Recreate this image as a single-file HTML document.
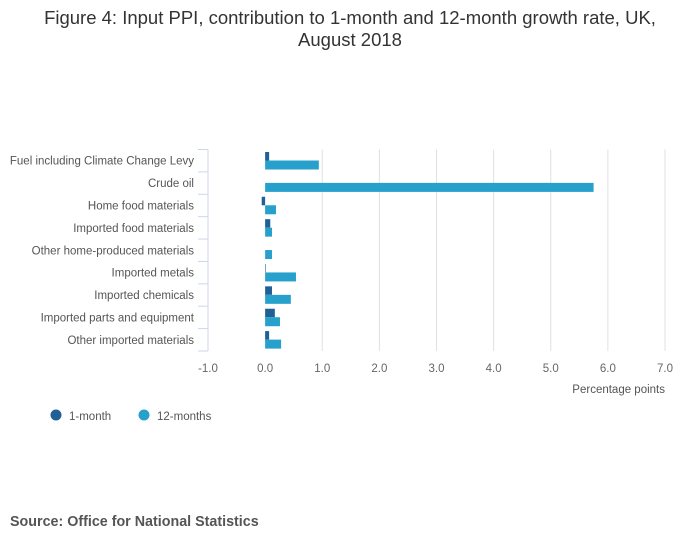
<!DOCTYPE html>
<html><head><meta charset="utf-8"><style>
body{margin:0;background:#fff;font-family:"Liberation Sans",sans-serif}
svg text{font-family:"Liberation Sans",sans-serif}
</style></head><body>
<svg width="700" height="549" viewBox="0 0 700 549" id="chart">
<text x="350" y="24" text-anchor="middle" font-size="18.5" fill="#333">Figure 4: Input PPI, contribution to 1-month and 12-month growth rate, UK,</text>
<text x="350" y="46" text-anchor="middle" font-size="18.5" fill="#333">August 2018</text>
<g id="grid"></g><g id="bars"></g><g id="yaxis"></g><g id="xaxis"></g>
<text x="665" y="393" text-anchor="end" font-size="11.5" fill="#555">Percentage points</text>
<circle cx="56" cy="415" r="5.5" fill="#206095"/>
<text x="69" y="420" font-size="11.5" fill="#555">1-month</text>
<circle cx="144" cy="415" r="5.5" fill="#27a0cc"/>
<text x="157" y="420" font-size="11.5" fill="#555">12-months</text>
<text x="10" y="526" font-size="14.3" font-weight="bold" fill="#555">Source: Office for National Statistics</text>
</svg>
<script>
const categories=["Fuel including Climate Change Levy","Crude oil","Home food materials","Imported food materials","Other home-produced materials","Imported metals","Imported chemicals","Imported parts and equipment","Other imported materials"];
const oneMonth=[0.07,0,-0.06,0.09,0,0.01,0.12,0.17,0.07];
const twelveMonths=[0.94,5.75,0.19,0.12,0.12,0.54,0.45,0.26,0.28];
const xTicks=[-1,0,1,2,3,4,5,6,7];
const xTickLabels=["-1.0","0.0","1.0","2.0","3.0","4.0","5.0","6.0","7.0"];
const NS="http://www.w3.org/2000/svg";
const x0=208,x1=665,y0=149.5,y1=351;
const xs=v=>x0+(v+1)/8*(x1-x0);
const band=(y1-y0)/categories.length;
const ys=i=>y0+i*band;
function mk(t,a,p){const e=document.createElementNS(NS,t);for(const k in a)e.setAttribute(k,a[k]);document.getElementById(p).appendChild(e);return e;}
xTicks.forEach((v,i)=>{
 if(v>0){const g=mk("line",{x1:xs(v),x2:xs(v),y1:y0,y2:y1,stroke:"#e0e0e0","stroke-width":1},"grid");
 
 }
 const t=mk("text",{x:xs(v),y:372,"text-anchor":"middle","font-size":11.5,fill:"#666"},"xaxis");t.textContent=xTickLabels[i];
 
 
});
const ax=mk("line",{x1:x0,x2:x0,y1:y0,y2:y1,stroke:"#ccd6eb","stroke-width":1},"yaxis");


for(let i=0;i<=categories.length;i++){
 const tk=mk("line",{x1:198,x2:x0,y1:ys(i),y2:ys(i),stroke:"#ccd6eb","stroke-width":1},"yaxis");
 
 
}
categories.forEach((c,i)=>{
 const t=mk("text",{x:194,y:ys(i)+band/2+4,"text-anchor":"end","font-size":11.5,fill:"#555"},"yaxis");t.textContent=c;
 
 
 const z=xs(0);
 const a=xs(oneMonth[i]);
 const b1=mk("rect",{x:Math.min(a,z),y:ys(i)+2.5,width:Math.abs(a-z),height:8.5,fill:"#206095"},"bars");
 
 
 const b=xs(twelveMonths[i]);
 const b2=mk("rect",{x:Math.min(b,z),y:ys(i)+11,width:Math.abs(b-z),height:9,fill:"#27a0cc"},"bars");
 
 
});
</script>
</body></html>
